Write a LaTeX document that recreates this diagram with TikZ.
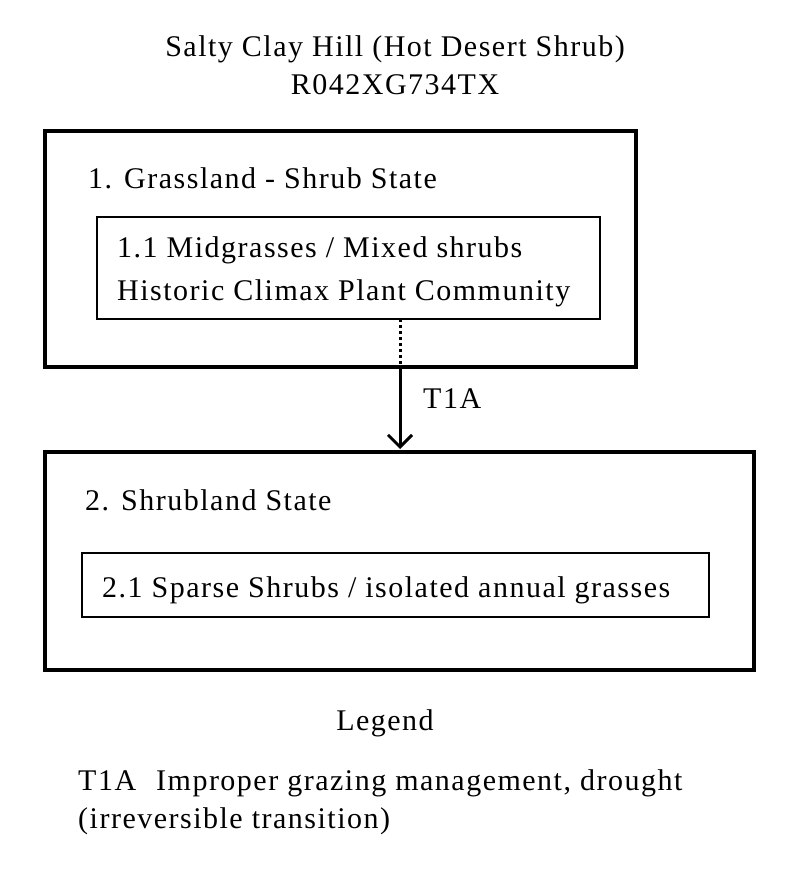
\documentclass[tikz,border=0pt]{standalone}
\usepackage{fontspec}
\setmainfont{Liberation Serif}[LetterSpace=5]
\usetikzlibrary{arrows.meta}
\begin{document}
\begin{tikzpicture}[x=1pt,y=-1pt,
  txt/.style={inner sep=0pt,font=\fontsize{30}{36}\selectfont},
  outerbox/.style={draw=black,line width=3.5pt},
  innerbox/.style={draw=black,line width=1.5pt},
  trans/.style={line width=3pt,-{Straight Barb[length=12pt,width=24pt,line width=3pt]}},
  dotline/.style={line width=3pt,dash pattern=on 3pt off 3pt}]
\useasboundingbox[fill=white] (0,0) rectangle (800,882);
% title
\node[txt,anchor=base] (title1) at (395,57) {Salty Clay Hill (Hot Desert Shrub)};
\node[txt,anchor=base] (title2) at (395,95) {R042XG734TX};
% state 1
\draw[outerbox] (45,131) rectangle (636,367);
\node[txt,anchor=base west] (s1) at (88,189) {1. Grassland - Shrub State};
\draw[innerbox] (97,217) rectangle (600,319);
\node[txt,anchor=base west] (c11a) at (117,258) {1.1 Midgrasses / Mixed shrubs};
\node[txt,anchor=base west] (c11b) at (117,300) {Historic Climax Plant Community};
\coordinate (p1) at (400,319);
\coordinate (p2) at (400,367);
\coordinate (p3) at (400,449);
\draw[dotline] (p1) -- (p2);
\draw[trans] (p2) -- (p3);
\node[txt,anchor=base west] (t1a) at (423,408) {T1A};
% state 2
\draw[outerbox] (45,452) rectangle (754,670);
\node[txt,anchor=base west] (s2) at (85,510) {2. Shrubland State};
\draw[innerbox] (82,553) rectangle (709,617);
\node[txt,anchor=base west] (c21) at (102,597) {2.1 Sparse Shrubs / isolated annual grasses};
% legend
\node[txt,anchor=base] (leg) at (385,730) {Legend};
\node[txt,anchor=base west] (leg1) at (78,790) {T1A\hspace{20pt}Improper grazing management, drought};
\node[txt,anchor=base west] (leg2) at (78,828) {(irreversible transition)};
\end{tikzpicture}
\end{document}
